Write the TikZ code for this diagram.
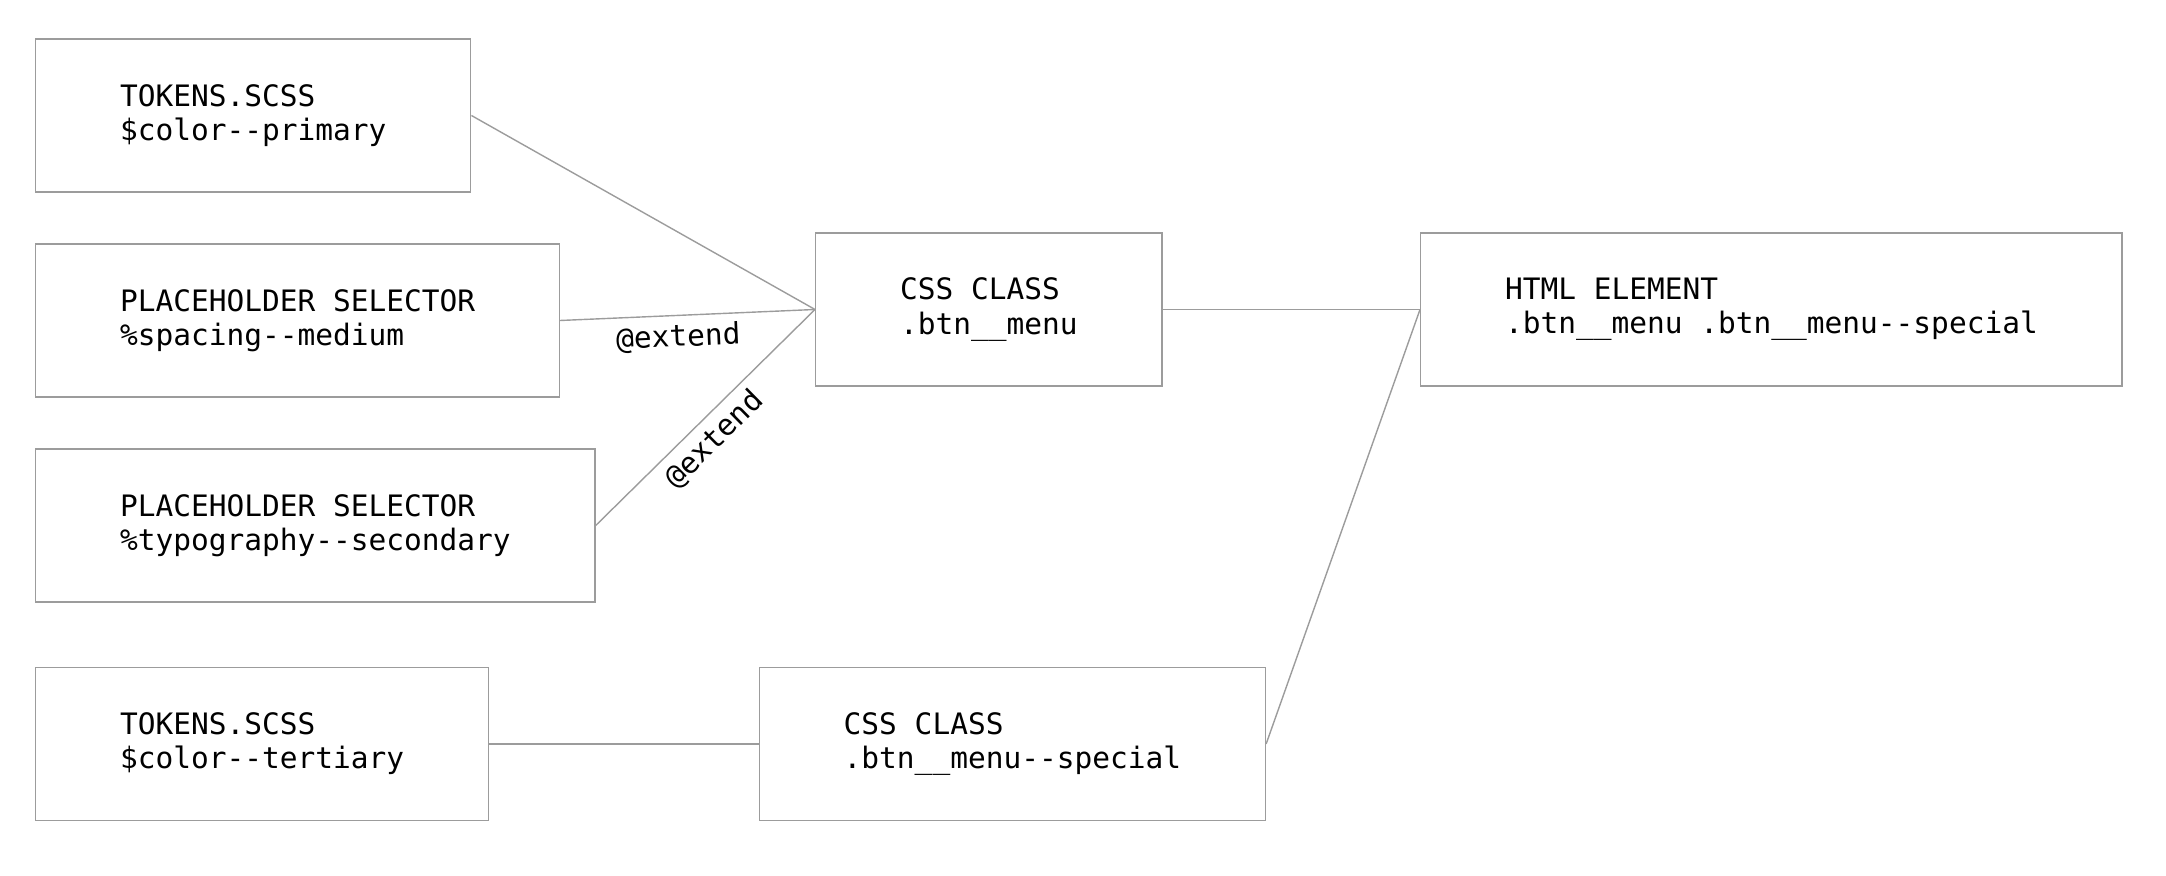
\documentclass[tikz,border=0pt]{standalone}
\usepackage{fontspec}
\setmonofont{DejaVu Sans Mono}
\usetikzlibrary{positioning}

\definecolor{edgegray}{HTML}{9C9C9C}

\tikzset{
	partbox/.style={draw=edgegray, line width=0.7pt, rectangle, anchor=north west, align=left,
		inner xsep=42.15pt, inner ysep=2pt, minimum height=76.5pt,
		font=\ttfamily\fontsize{14.75}{17.2}\selectfont},
	link/.style={draw=edgegray, line width=0.7pt},
	linklabel/.style={font=\ttfamily\fontsize{14.75}{17.2}\selectfont, inner sep=4pt}
}

\begin{document}
\begin{tikzpicture}[x=0.5pt, y=0.5pt]
	
	\useasboundingbox (0,0) rectangle (2166,876);
	
	% Draw the sources on the left.
	\node[partbox] (tokprimary) at (35,837.7) {TOKENS.SCSS\\\$color-{}-primary};
	\node[partbox] (phspacing) at (35,632.7) {PLACEHOLDER SELECTOR\\\%spacing-{}-medium};
	\node[partbox] (phtypo) at (35,427.7) {PLACEHOLDER SELECTOR\\\%typography-{}-secondary};
	\node[partbox] (toktertiary) at (35,209.3) {TOKENS.SCSS\\\$color-{}-tertiary};
	
	% Draw the classes and the element.
	\node[partbox] (cssmenu) at (815,643.7) {CSS CLASS\\.btn\_\_menu};
	\node[partbox] (cssspecial) at (758.7,209.3) {CSS CLASS\\.btn\_\_menu-{}-special};
	\node[partbox] (htmlel) at (1420,643.7) {HTML ELEMENT\\.btn\_\_menu .btn\_\_menu-{}-special};
	
	% Draw the links.
	\draw[link] (tokprimary.east) -- (cssmenu.west);
	\draw[link] (phspacing.east) -- node[linklabel, pos=0.46, below, sloped] {@extend} (cssmenu.west);
	\draw[link] (phtypo.east) -- node[linklabel, pos=0.47, below, sloped] {@extend} (cssmenu.west);
	\draw[link] (toktertiary.east) -- (cssspecial.west);
	\draw[link] (cssmenu.east) -- (htmlel.west);
	\draw[link] (cssspecial.east) -- (htmlel.west);
	
\end{tikzpicture}
\end{document}
